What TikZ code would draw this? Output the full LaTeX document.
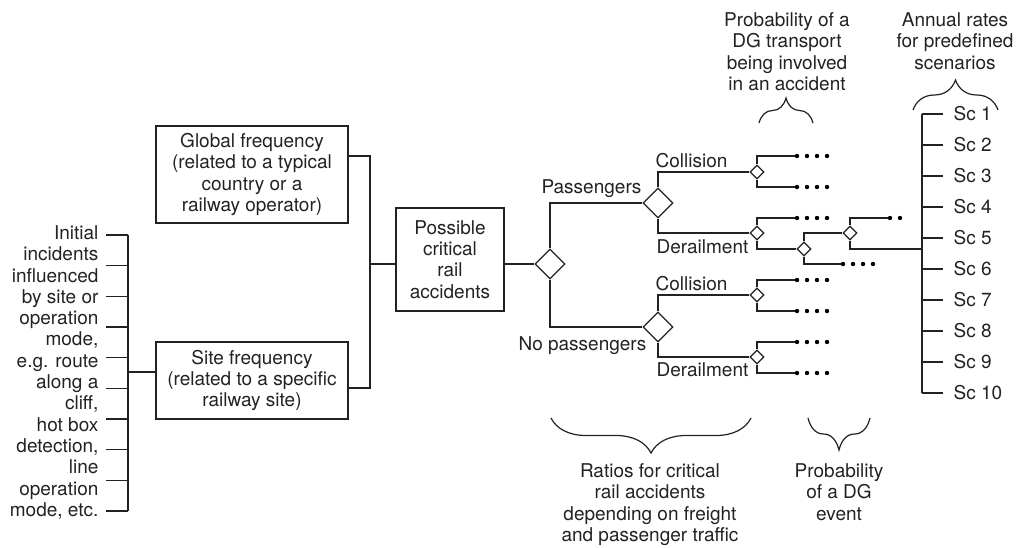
\documentclass[tikz,border=0pt]{standalone}
\usepackage{fontspec}
\setmainfont{TeX Gyre Heros}
\usetikzlibrary{positioning,calc,shapes.geometric,decorations.pathreplacing}
\definecolor{inkcol}{HTML}{222222}

% row of dots at the end of an open branch
\newcommand{\leafdots}[2]{%
  \foreach \k in {0,...,#2} \fill ($(#1)+(10*\k,0)$) circle[radius=2.2pt];}

\begin{document}
\begin{tikzpicture}[
  x=1pt, y=-1pt,
  font=\fontsize{19}{21.3}\selectfont,
  line width=1.2pt, draw=inkcol, text=inkcol,
  box/.style={draw, align=center, inner sep=0pt, minimum width=192pt},
  gate/.style={draw, diamond, fill=white, inner sep=0pt, minimum width=30pt, minimum height=30pt},
  subgate/.style={gate, minimum width=14pt, minimum height=14pt},
  lbl/.style={align=center, inner sep=0pt},
  curly/.style={decorate, decoration={brace, amplitude=#1}},
]
\useasboundingbox (0,0) rectangle (1028,547);

% Left column: list of initial incidents
\node[lbl, align=right, anchor=north east] (causes) at (99,225)
  {Initial\\incidents\\influenced\\by site or\\operation\\mode,\\e.g. route\\along a\\cliff,\\hot box\\detection,\\line\\operation\\mode, etc.};
\coordinate (bartop) at (128,235);
\coordinate (barbot) at (128,511);
\coordinate (barmid) at (128,372);
\draw (bartop) -- (barbot);
\foreach \i in {0,...,9}
  \draw (106,{235+30.67*\i}) -- (128,{235+30.67*\i});

% Frequency boxes
\node[box, minimum height=97pt] (glob) at (252,174.5)
  {Global frequency\\(related to a typical\\country or a\\railway operator)};
\node[box, minimum height=77pt] (site) at (252,380.5)
  {Site frequency\\(related to a specific\\railway site)};
\node[box, minimum width=108pt, minimum height=103pt] (poss) at (450,259.5)
  {Possible\\critical\\rail\\accidents};

\draw (barmid) -- (barmid -| site.west);
\coordinate (join) at (370,264);
\draw ([yshift=18.5pt]glob.east) -| (join);
\draw (join) |- ([yshift=-7.5pt]site.east);
\draw (join) -- (poss.west |- join);

% Passenger split
\node[gate] (root) at (550,264) {};
\node[gate] (pass) at (658,203) {};
\node[gate] (nopass) at (658,327) {};
\draw (poss.east |- root) -- (root.west);
\draw (root.north) |- (pass.west);
\draw (root.south) |- (nopass.west);
\node[lbl, anchor=base east] (passlbl) at (642,193) {Passengers};
\node[lbl, anchor=base east] (nopasslbl) at (647,350) {No passengers};

% Accident type
\node[subgate] (pc) at (757,172) {};
\node[subgate] (pd) at (757,233) {};
\node[subgate] (nc) at (757,295) {};
\node[subgate] (nd) at (757,357) {};
\draw (pass.north) |- (pc.west);
\draw (pass.south) |- (pd.west);
\draw (nopass.north) |- (nc.west);
\draw (nopass.south) |- (nd.west);
\node[lbl, anchor=base west] (pclbl) at (655,167) {Collision};
\node[lbl, anchor=base west] (pdlbl) at (656,253) {Derailment};
\node[lbl, anchor=base west] (nclbl) at (655,290) {Collision};
\node[lbl, anchor=base west] (ndlbl) at (656,376) {Derailment};

% DG involvement and DG event
\node[subgate] (dd) at (804,249) {};
\node[subgate] (de) at (850,233) {};
\coordinate (pc1) at (797,156); \coordinate (pc2) at (797,187);
\coordinate (pd1) at (797,218);
\coordinate (nc1) at (797,280); \coordinate (nc2) at (797,311);
\coordinate (nd1) at (797,342); \coordinate (nd2) at (797,373);
\coordinate (dd2) at (843,264);
\coordinate (de1) at (890,218);
\draw (pc.north) |- (pc1); \draw (pc.south) |- (pc2);
\draw (pd.north) |- (pd1); \draw (pd.south) |- (dd.west);
\draw (nc.north) |- (nc1); \draw (nc.south) |- (nc2);
\draw (nd.north) |- (nd1); \draw (nd.south) |- (nd2);
\draw (dd.north) |- (de.west); \draw (dd.south) |- (dd2);
\draw (de.north) |- (de1);
\leafdots{pc1}{3} \leafdots{pc2}{3} \leafdots{pd1}{3}
\leafdots{nc1}{3} \leafdots{nc2}{3} \leafdots{nd1}{3} \leafdots{nd2}{3}
\leafdots{dd2}{3} \leafdots{de1}{1}

% Scenario list
\coordinate (sctop) at (922,114);
\coordinate (scbot) at (922,393);
\coordinate (scjoin) at (922,249);
\draw (sctop) -- (scbot);
\draw (de.south) |- (scjoin);
\foreach \i in {1,...,10}
  \draw (922,{83+31*\i}) -- ++(21,0) node[lbl, anchor=west, xshift=10pt] (sc\i) {Sc \i};

% Braces and their captions
\draw[curly=25pt] (759,123) -- (813,123);
\node[lbl, anchor=north] (probdg) at (787,12)
  {Probability of a\\DG transport\\being involved\\in an accident};
\draw[curly=30pt] (913,110) -- (998,110);
\node[lbl, anchor=north] (annual) at (955,12)
  {Annual rates\\for predefined\\scenarios};
\draw[curly=35pt] (751,418) -- (551,418);
\node[lbl, anchor=north] (ratios) at (650,463)
  {Ratios for critical\\rail accidents\\depending on freight\\and passenger traffic};
\draw[curly=32pt] (870,418) -- (808,418);
\node[lbl, anchor=north] (event) at (839,463)
  {Probability\\of a DG\\event};

\end{tikzpicture}
\end{document}
